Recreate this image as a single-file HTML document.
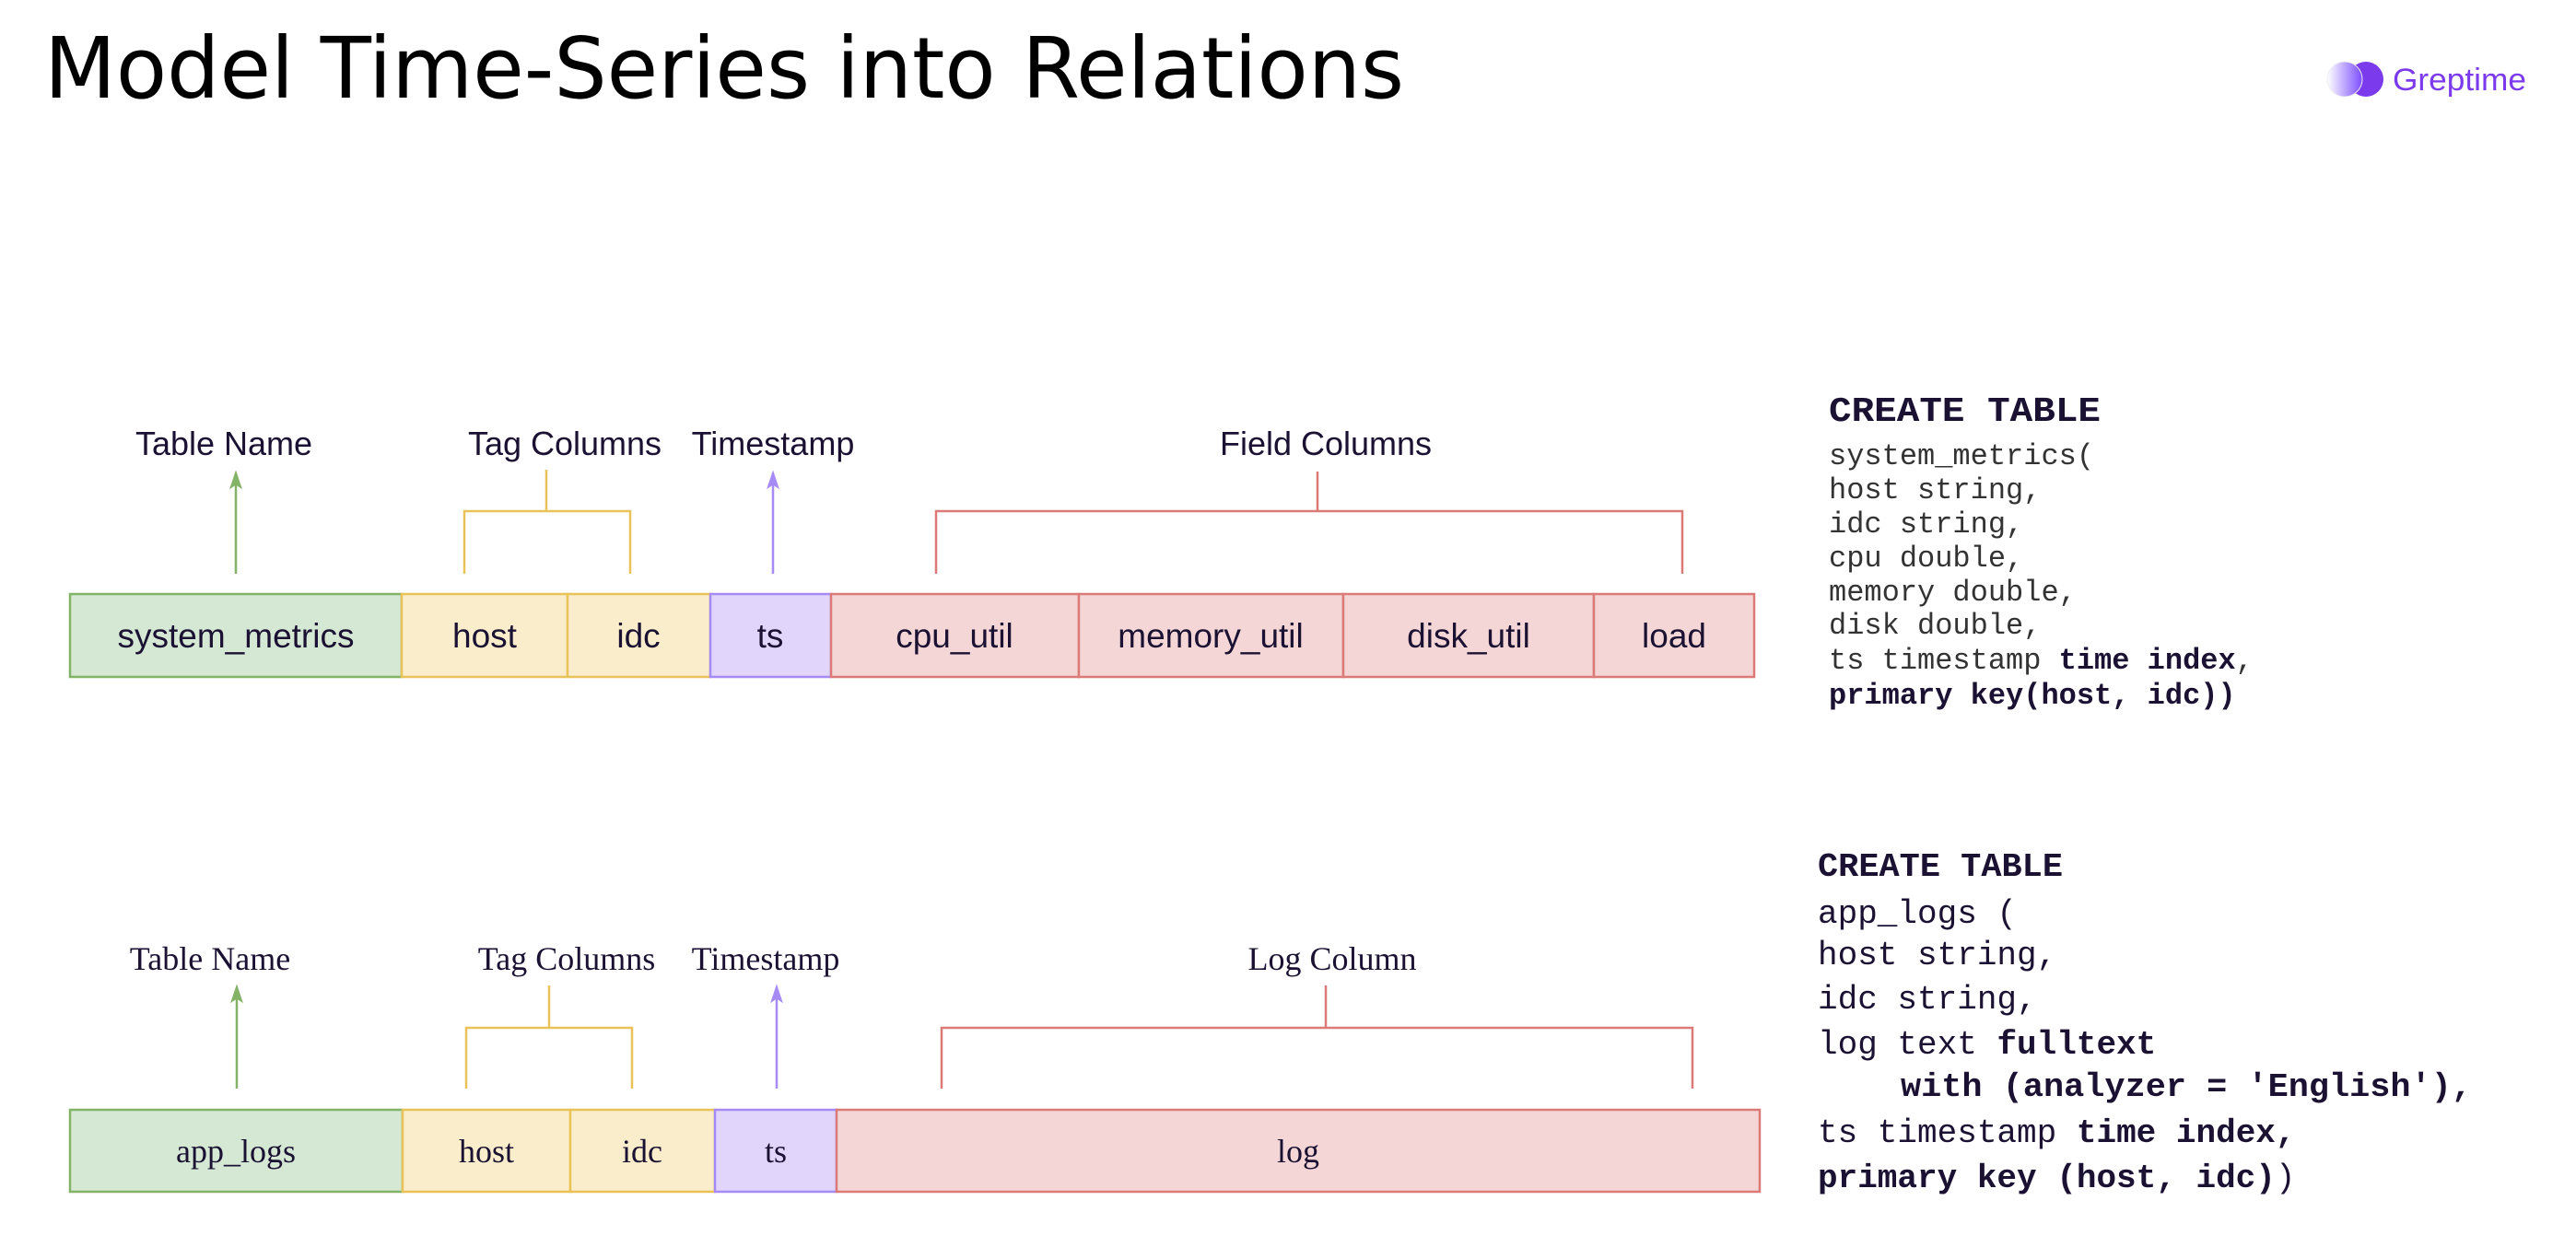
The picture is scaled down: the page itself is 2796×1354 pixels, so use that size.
<!DOCTYPE html>
<html><head><meta charset="utf-8"><style>
html,body{margin:0;padding:0;background:#fff;}
svg{display:block;}
</style></head><body>
<svg width="2796" height="1354" viewBox="0 0 2796 1354" xmlns="http://www.w3.org/2000/svg">
<defs>
<linearGradient id="lg" x1="0" x2="1" y1="0" y2="0">
<stop offset="0" stop-color="#ffffff"/><stop offset="1" stop-color="#7c4dff"/>
</linearGradient>
</defs>
<rect width="2796" height="1354" fill="#fff"/>
<text x="48" y="106" font-family="DejaVu Sans, sans-serif" font-size="92" fill="#000" textLength="1476" lengthAdjust="spacingAndGlyphs">Model Time-Series into Relations</text>
<!-- logo -->
<circle cx="2568" cy="86" r="19" fill="#7c3aed"/>
<circle cx="2545" cy="86" r="19" fill="url(#lg)" stroke="#eee" stroke-width="1"/>
<text x="2597" y="98" font-family="Liberation Sans, sans-serif" font-size="34" fill="#7c3aed" textLength="145" lengthAdjust="spacingAndGlyphs">Greptime</text>

<!-- Row 1 -->
<g font-family="Liberation Sans, sans-serif" fill="#1b1233" font-size="36" text-anchor="middle">
<text x="243" y="494">Table Name</text>
<text x="613" y="494">Tag Columns</text>
<text x="839" y="494">Timestamp</text>
<text x="1439" y="494">Field Columns</text>
</g>
<g fill="none" stroke-width="2.5">
<line x1="256" y1="525" x2="256" y2="623" stroke="#82b366"/>
<polygon points="256,512 250,530 256,526 262,530" fill="#82b366" stroke="#82b366" stroke-width="1"/>
<polyline points="504,623 504,555 684,555 684,623" stroke="#e9c35a"/>
<line x1="593" y1="510" x2="593" y2="555" stroke="#e9c35a"/>
<line x1="839" y1="525" x2="839" y2="623" stroke="#a68bf5"/>
<polygon points="839,512 833,530 839,526 845,530" fill="#a68bf5" stroke="#a68bf5" stroke-width="1"/>
<polyline points="1016,623 1016,555 1826,555 1826,623" stroke="#dc7a78"/>
<line x1="1430" y1="512" x2="1430" y2="555" stroke="#dc7a78"/>
</g>
<g stroke-width="2.5">
<rect x="76" y="645" width="360" height="90" fill="#d5e8d4" stroke="#82b366"/>
<rect x="436" y="645" width="180" height="90" fill="#faedcb" stroke="#e9c35a"/>
<rect x="616" y="645" width="155" height="90" fill="#faedcb" stroke="#e9c35a"/>
<rect x="771" y="645" width="131" height="90" fill="#e1d5fb" stroke="#a68bf5"/>
<rect x="902" y="645" width="269" height="90" fill="#f3d6d5" stroke="#dc7a78"/>
<rect x="1171" y="645" width="287" height="90" fill="#f3d6d5" stroke="#dc7a78"/>
<rect x="1458" y="645" width="272" height="90" fill="#f3d6d5" stroke="#dc7a78"/>
<rect x="1730" y="645" width="174" height="90" fill="#f3d6d5" stroke="#dc7a78"/>
</g>
<g font-family="Liberation Sans, sans-serif" fill="#1b1233" font-size="37" text-anchor="middle">
<text x="256" y="703">system_metrics</text>
<text x="526" y="703">host</text>
<text x="693" y="703">idc</text>
<text x="836" y="703">ts</text>
<text x="1036" y="703">cpu_util</text>
<text x="1314" y="703">memory_util</text>
<text x="1594" y="703">disk_util</text>
<text x="1817" y="703">load</text>
</g>

<!-- Row 2 -->
<g font-family="Liberation Serif, serif" fill="#1b1233" font-size="36" text-anchor="middle">
<text x="228" y="1053">Table Name</text>
<text x="615" y="1053">Tag Columns</text>
<text x="831" y="1053">Timestamp</text>
<text x="1446" y="1053">Log Column</text>
</g>
<g fill="none" stroke-width="2.5">
<line x1="257" y1="1083" x2="257" y2="1182" stroke="#82b366"/>
<polygon points="257,1070 251,1088 257,1084 263,1088" fill="#82b366" stroke="#82b366" stroke-width="1"/>
<polyline points="506,1182 506,1116 686,1116 686,1182" stroke="#e9c35a"/>
<line x1="596" y1="1070" x2="596" y2="1116" stroke="#e9c35a"/>
<line x1="843" y1="1083" x2="843" y2="1182" stroke="#a68bf5"/>
<polygon points="843,1070 837,1088 843,1084 849,1088" fill="#a68bf5" stroke="#a68bf5" stroke-width="1"/>
<polyline points="1022,1182 1022,1116 1837,1116 1837,1182" stroke="#dc7a78"/>
<line x1="1439" y1="1070" x2="1439" y2="1116" stroke="#dc7a78"/>
</g>
<g stroke-width="2.5">
<rect x="76" y="1205" width="361" height="89" fill="#d5e8d4" stroke="#82b366"/>
<rect x="437" y="1205" width="182" height="89" fill="#faedcb" stroke="#e9c35a"/>
<rect x="619" y="1205" width="157" height="89" fill="#faedcb" stroke="#e9c35a"/>
<rect x="776" y="1205" width="132" height="89" fill="#e1d5fb" stroke="#a68bf5"/>
<rect x="908" y="1205" width="1002" height="89" fill="#f3d6d5" stroke="#dc7a78"/>
</g>
<g font-family="Liberation Serif, serif" fill="#1b1233" font-size="36" text-anchor="middle">
<text x="256" y="1262">app_logs</text>
<text x="528" y="1262">host</text>
<text x="697" y="1262">idc</text>
<text x="842" y="1262">ts</text>
<text x="1409" y="1262">log</text>
</g>

<!-- Code 1 -->
<g font-family="Liberation Mono, monospace" fill="#1b1233">
<text x="1985" y="457" font-size="38" font-weight="bold" textLength="295" lengthAdjust="spacingAndGlyphs">CREATE TABLE</text>
<g font-size="32" fill="#333">
<text x="1985" y="504">system_metrics(</text>
<text x="1985" y="541">host string,</text>
<text x="1985" y="578">idc string,</text>
<text x="1985" y="615">cpu double,</text>
<text x="1985" y="652">memory double,</text>
<text x="1985" y="688">disk double,</text>
<text x="1985" y="726">ts timestamp <tspan font-weight="bold" fill="#1b1233">time index</tspan>,</text>
<text x="1985" y="764" font-weight="bold" fill="#1b1233">primary key(host, idc))</text>
</g>
</g>

<!-- Code 2 -->
<g font-family="Liberation Mono, monospace" fill="#1b1233">
<text x="1973" y="951" font-size="36" font-weight="bold" textLength="266" lengthAdjust="spacingAndGlyphs">CREATE TABLE</text>
<g font-size="36">
<text x="1973" y="1002">app_logs (</text>
<text x="1973" y="1047">host string,</text>
<text x="1973" y="1095">idc string,</text>
<text x="1973" y="1144">log text <tspan font-weight="bold">fulltext</tspan></text>
<text x="2063" y="1190" font-weight="bold" textLength="620" lengthAdjust="spacingAndGlyphs">with (analyzer = 'English'),</text>
<text x="1973" y="1240">ts timestamp <tspan font-weight="bold">time index,</tspan></text>
<text x="1973" y="1289"><tspan font-weight="bold">primary key (host, idc)</tspan>)</text>
</g>
</g>
</svg>
</body></html>
